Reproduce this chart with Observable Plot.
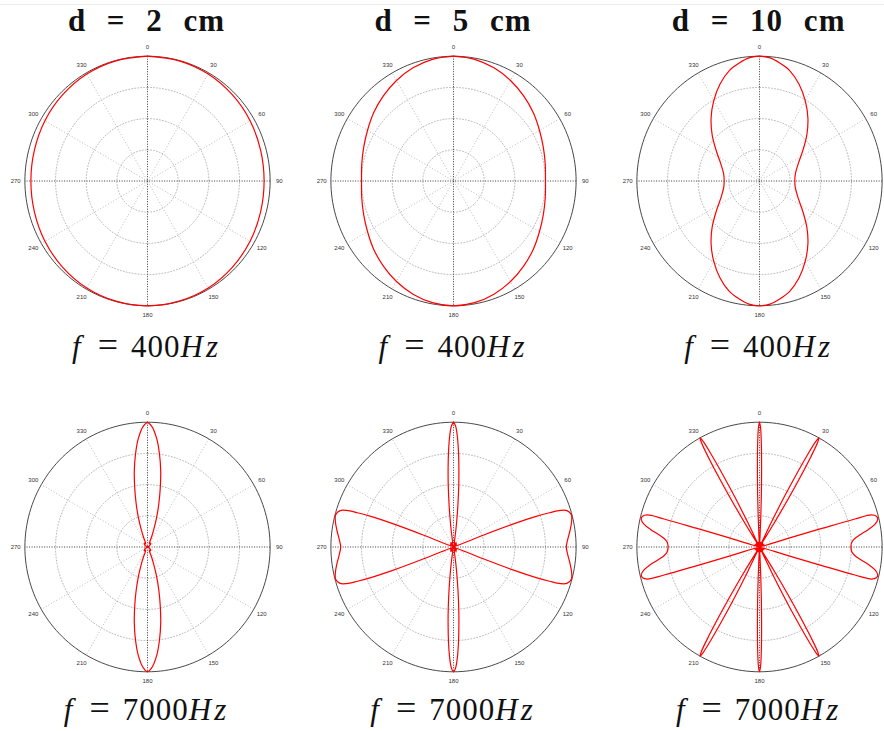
<!DOCTYPE html>
<html>
<head>
<meta charset="utf-8">
<script src="https://cdn.jsdelivr.net/npm/d3@7"></script>
<script src="https://cdn.jsdelivr.net/npm/@observablehq/plot@0.6"></script>
<style>
  body { margin: 0; background: #fff; }
  #fig { position: relative; width: 884px; height: 731px; overflow: hidden; background: #fff; }
  #rule { position: absolute; left: 0; top: 4px; width: 884px; height: 1px; background: #ececec; }
  .title, .caption { position: absolute; white-space: pre; line-height: 1; transform: translateX(-50%); color: #111; }
  .title { font-family: "Liberation Serif", serif; font-weight: bold; font-size: 31px; letter-spacing: 1px; word-spacing: 12px; }
  .caption { font-family: "Liberation Serif", serif; font-size: 31px; letter-spacing: 1px; }
  .caption .eq { font-size: 36px; line-height: 0; margin: 0 12px 0 16px; }
  .caption .unit { letter-spacing: 3px; }
  .panel { position: absolute; width: 282px; height: 287px; }
  .panel svg { overflow: visible; max-width: none !important; width: 282px !important; height: 287px !important; }
</style>
</head>
<body>
<div id="fig"><div id="rule"></div></div>
<script>
// Column and row headings
const spacings = ["2", "5", "10"];          // microphone spacing d, cm
const frequencies = ["400", "7000"];        // Hz

// Polar grid
const tickAngles = [0, 30, 60, 90, 120, 150, 180, 210, 240, 270, 300, 330];
const ringRadii = [0.25, 0.5, 0.75];

// Directivity, first quadrant (degrees from the 0° axis, relative level);
// the pattern is mirrored into the other three quadrants.
const angles_d2_f400 = [0, 15, 30, 45, 60, 75, 90];
const gains_d2_f400  = [1, 0.997, 0.99, 0.978, 0.966, 0.955, 0.951];

const angles_d5_f400 = [0, 10, 20, 30, 40, 50, 60, 70, 80, 90];
const gains_d5_f400  = [1, 0.99, 0.965, 0.93, 0.89, 0.85, 0.81, 0.78, 0.76, 0.75];

const angles_d10_f400 = [0, 5, 9.9, 15.4, 22.6, 30.4, 38.1, 46.2, 55.5, 66.7, 79.6, 90];
const gains_d10_f400  = [1, 0.99, 0.96, 0.92, 0.84, 0.74, 0.64, 0.535, 0.428, 0.343, 0.297, 0.288];

const angles_d2_f7000 = [0, 2, 5, 7.5, 10, 12.5, 15, 17.5, 20, 22.5, 25, 32, 40, 48, 56, 64, 72, 80, 90];
const gains_d2_f7000  = [1, 0.97, 0.87, 0.75, 0.62, 0.48, 0.355, 0.245, 0.15, 0.085, 0.04, 0.03, 0.04, 0.035, 0.02, 0.008, 0, 0.006, 0.01];

const angles_d5_f7000 = [0, 1, 2, 3, 4, 5, 6, 7, 8, 9, 12, 16, 20, 24, 30, 36, 42, 48, 55, 62, 68,
                         68.7, 69.3, 70, 70.7, 71.4, 72.5, 75, 78, 82, 86, 90];
const gains_d5_f7000  = [1, 0.97, 0.89, 0.77, 0.63, 0.49, 0.35, 0.23, 0.14, 0.07, 0.03, 0.04, 0.02, 0, 0.03, 0.04, 0.02, 0, 0.03, 0.02, 0,
                         0.26, 0.53, 0.71, 0.83, 0.92, 0.97, 0.995, 0.985, 0.96, 0.935, 0.92];

const angles_d10_f7000 = [0, 0.5, 1, 1.5, 2, 2.5, 3, 3.5, 7, 10, 13, 16, 19, 22, 25.3,
                          26, 26.7, 27.3, 27.9, 28.5, 29, 29.5, 30.1, 30.7, 31.3, 32, 32.7,
                          37, 42, 48, 53, 58, 63, 68, 73.2,
                          73.5, 73.7, 73.9, 74.3, 75.5, 77, 79, 81, 83, 85, 87, 90];
const gains_d10_f7000  = [1, 0.96, 0.84, 0.65, 0.44, 0.24, 0.09, 0, 0.04, 0.025, 0, 0.03, 0.04, 0.02, 0,
                          0.22, 0.45, 0.65, 0.83, 0.96, 1, 0.96, 0.83, 0.65, 0.45, 0.22, 0,
                          0.03, 0.04, 0.02, 0, 0.03, 0.04, 0.02, 0,
                          0.25, 0.53, 0.81, 0.95, 0.985, 0.99, 0.96, 0.9, 0.83, 0.78, 0.755, 0.745];

const panels = [
  {col: 0, row: 0, angles: angles_d2_f400,   gains: gains_d2_f400},
  {col: 1, row: 0, angles: angles_d5_f400,   gains: gains_d5_f400},
  {col: 2, row: 0, angles: angles_d10_f400,  gains: gains_d10_f400},
  {col: 0, row: 1, angles: angles_d2_f7000,  gains: gains_d2_f7000},
  {col: 1, row: 1, angles: angles_d5_f7000,  gains: gains_d5_f7000},
  {col: 2, row: 1, angles: angles_d10_f7000, gains: gains_d10_f7000}
];

// Layout (pixel centres of the polar axes)
const FIG_W = 884;
const colCenters = [146.5, 453, 758.6];
const rowCenters = [180.5, 546];
const W = 282, H = 287, LIM = 1.15;
const rad = Math.PI / 180;
const LABEL_R = 1.075;

// Mirror one quadrant into a full turn (0° at top, clockwise)
function fullTurn(angles, gains) {
  const q = angles.map((a, i) => ({a, r: gains[i]}));
  const pts = [];
  q.forEach(p => pts.push({theta: p.a, r: p.r}));
  q.slice(0, -1).reverse().forEach(p => pts.push({theta: 180 - p.a, r: p.r}));
  q.slice(1).forEach(p => pts.push({theta: 180 + p.a, r: p.r}));
  q.slice(0, -1).reverse().forEach(p => pts.push({theta: 360 - p.a, r: p.r}));
  return pts;
}

const px = d => d.r * Math.sin(d.theta * rad);
const py = d => d.r * Math.cos(d.theta * rad);

function circle(r, key) {
  return d3.range(0, 361, 2).map(t => ({theta: t, r, key}));
}

function polarPanel(angles, gains, cx) {
  const rings = ringRadii.flatMap(r => circle(r, r));
  const spokes = tickAngles.filter(a => a < 180).map(a => ({a, main: a % 90 === 0}));
  // angle labels that would fall past the right edge of the figure are left out
  const labels = tickAngles
    .map(a => ({theta: a, r: LABEL_R, label: String(a)}))
    .filter(d => cx + px(d) * (W / (2 * LIM)) + 4 < FIG_W);
  return Plot.plot({
    width: W, height: H, margin: 0,
    x: {domain: [-LIM, LIM], axis: null},
    y: {domain: [-LIM, LIM], axis: null},
    style: {background: "transparent", maxWidth: "none", overflow: "visible"},
    marks: [
      Plot.line(rings, {x: px, y: py, z: "key", stroke: "#a8a8a8", strokeWidth: 0.8, strokeDasharray: "1,2"}),
      Plot.link(spokes.filter(s => !s.main), {
        x1: s => Math.sin(s.a * rad), y1: s => Math.cos(s.a * rad),
        x2: s => -Math.sin(s.a * rad), y2: s => -Math.cos(s.a * rad),
        stroke: "#a8a8a8", strokeWidth: 0.8, strokeDasharray: "1,2"}),
      Plot.link(spokes.filter(s => s.main), {
        x1: s => Math.sin(s.a * rad), y1: s => Math.cos(s.a * rad),
        x2: s => -Math.sin(s.a * rad), y2: s => -Math.cos(s.a * rad),
        stroke: "#222", strokeWidth: 0.9, strokeDasharray: "1,1.5"}),
      Plot.line(circle(1, 1), {x: px, y: py, stroke: "#333", strokeWidth: 0.9}),
      Plot.text(labels, {x: px, y: py, text: "label", fontSize: 6, fill: "#333",
        fontFamily: "Liberation Sans, sans-serif"}),
      Plot.line(fullTurn(angles, gains), {x: px, y: py, stroke: "#ff0000", strokeWidth: 1.2,
        curve: "catmull-rom"})
    ]
  });
}

const fig = document.getElementById("fig");

panels.forEach(p => {
  const cx = colCenters[p.col];
  const div = document.createElement("div");
  div.className = "panel";
  div.style.left = (cx - W / 2) + "px";
  div.style.top = (rowCenters[p.row] - H / 2) + "px";
  div.appendChild(polarPanel(p.angles, p.gains, cx));
  fig.appendChild(div);
});

// Column titles
spacings.forEach((d, i) => {
  const t = document.createElement("div");
  t.className = "title";
  t.textContent = "d = " + d + " cm";
  t.style.left = colCenters[i] + "px";
  t.style.top = "5px";
  fig.appendChild(t);
});

// Frequency captions under each plot
const captionTops = [331, 694];
frequencies.forEach((f, row) => {
  colCenters.forEach(cx => {
    const c = document.createElement("div");
    c.className = "caption";
    c.innerHTML = '<i>f</i><span class="eq">=</span>' + f + '<i class="unit">Hz</i>';
    c.style.left = cx + "px";
    c.style.top = captionTops[row] + "px";
    fig.appendChild(c);
  });
});
</script>
</body>
</html>
